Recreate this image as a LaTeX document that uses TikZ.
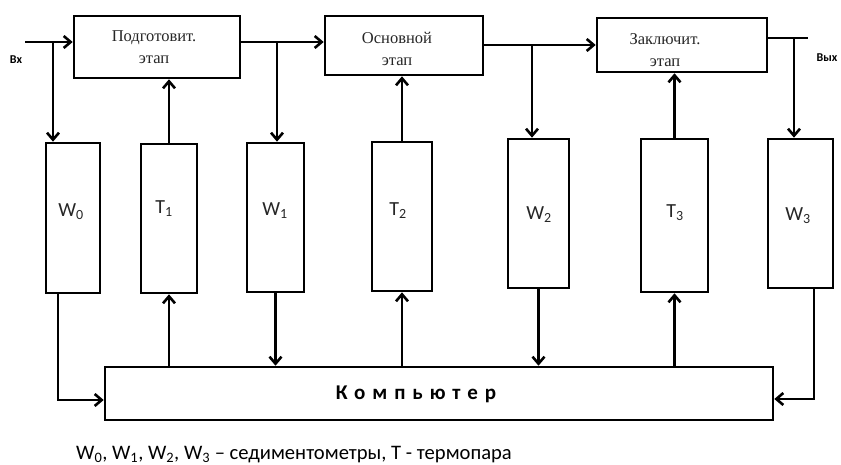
\documentclass[tikz,border=0pt]{standalone}
\usepackage{fontspec}
\setmainfont{Carlito}
\newfontfamily\serifru{Liberation Serif}
\usetikzlibrary{arrows.meta}
\begin{document}
\begin{tikzpicture}[x=1pt,y=-1pt,
  blk/.style={draw,line width=2.6pt,inner sep=0pt,fill=white},
  stagetxt/.style={font=\serifru\fontsize{16.5}{22}\selectfont,align=center,text=black!85},
  senstxt/.style={font=\fontsize{20}{22}\selectfont,text=black!85},
  conn/.style={line width=2.6pt},
  arr/.style={conn,-{Straight Barb[length=7pt,width=12pt]}}]
\useasboundingbox (0,0) rectangle (841,465);
% stage boxes
\node[blk,minimum width=166pt,minimum height=62pt] (b1) at (157,47) {};
\node[blk,minimum width=158pt,minimum height=59pt] (b2) at (404,45.5) {};
\node[blk,minimum width=170pt,minimum height=54pt] (b3) at (682,45) {};
\node[stagetxt] (b1t) at (154,47.5) {Подготовит.\\этап};
\node[stagetxt] (b2t) at (397,48.5) {Основной\\этап};
\node[stagetxt] (b3t) at (665,50) {Заключит.\\этап};
% sensors
\node[blk,minimum width=54pt,minimum height=150pt] (W0) at (73,218) {};
\node[blk,minimum width=56pt,minimum height=149pt] (T1) at (169,218.5) {};
\node[blk,minimum width=57pt,minimum height=149pt] (W1) at (275.5,217.5) {};
\node[blk,minimum width=60pt,minimum height=149pt] (T2) at (402,216.5) {};
\node[blk,minimum width=61pt,minimum height=149pt] (W2) at (538.5,213.5) {};
\node[blk,minimum width=67pt,minimum height=153pt] (T3) at (674.5,215.5) {};
\node[blk,minimum width=65pt,minimum height=149pt] (W3) at (800.5,213.5) {};
\node[senstxt] (W0t) at (71,212) {W\textsubscript{0}};
\node[senstxt] (T1t) at (164,209) {T\textsubscript{1}};
\node[senstxt] (W1t) at (275,211) {W\textsubscript{1}};
\node[senstxt] (T2t) at (398,211) {T\textsubscript{2}};
\node[senstxt] (W2t) at (539,215) {W\textsubscript{2}};
\node[senstxt] (T3t) at (675,213) {T\textsubscript{3}};
\node[senstxt] (W3t) at (798,216) {W\textsubscript{3}};
% computer
\node[blk,minimum width=668pt,minimum height=53pt] (C) at (439,393.5) {};
\node[font=\bfseries\fontsize{21}{23}\selectfont\addfontfeature{LetterSpace=33}] (Ct) at (416,394) {Компьютер};
% in/out labels
\node[font=\bfseries\fontsize{12}{14}\selectfont] (vx) at (16,60) {Вх};
\node[font=\bfseries\fontsize{12}{14}\selectfont] (vyx) at (827,58) {Вых};
% top connectors
\coordinate (in) at (25,42);
\coordinate (j0) at (53,42);
\coordinate (j1) at (277,42);
\coordinate (j2) at (532,45);
\coordinate (j3) at (794,38);
\coordinate (out) at (808,38);
\draw[arr] (in) -- (in -| b1.west);
\draw[arr] (j0) -- (j0 |- W0.north);
\draw[arr] (T1.north) -- (T1.north |- b1.south);
\draw[arr] (b1.east |- j1) -- (b2.west |- j1);
\draw[arr] (j1) -- (j1 |- W1.north);
\draw[arr] (T2.north) -- (T2.north |- b2.south);
\draw[arr] (b2.east |- j2) -- (b3.west |- j2);
\draw[arr] (j2) -- (j2 |- W2.north);
\draw[arr] (T3.north) -- (T3.north |- b3.south);
\draw[conn] (b3.east |- out) -- (out);
\draw[arr] (j3) -- (j3 |- W3.north);
% bottom connectors
\coordinate (c0) at (58,400);
\coordinate (c3) at (814,399);
\draw[arr] (c0 |- W0.south) -- (c0) -- (c0 -| C.west);
\draw[arr] (T1.south |- C.north) -- (T1.south);
\draw[arr] (W1.south) -- (W1.south |- C.north);
\draw[arr] (T2.south |- C.north) -- (T2.south);
\draw[arr] (W2.south) -- (W2.south |- C.north);
\draw[arr] (T3.south |- C.north) -- (T3.south);
\draw[arr] (c3 |- W3.south) -- (c3) -- (c3 -| C.east);
% caption
\node[anchor=base west,font=\fontsize{20.6}{22}\selectfont,inner sep=0pt] (cap) at (76,459)
  {W\textsubscript{0}, W\textsubscript{1}, W\textsubscript{2}, W\textsubscript{3} – седиментометры, T - термопара};
\end{tikzpicture}
\end{document}
